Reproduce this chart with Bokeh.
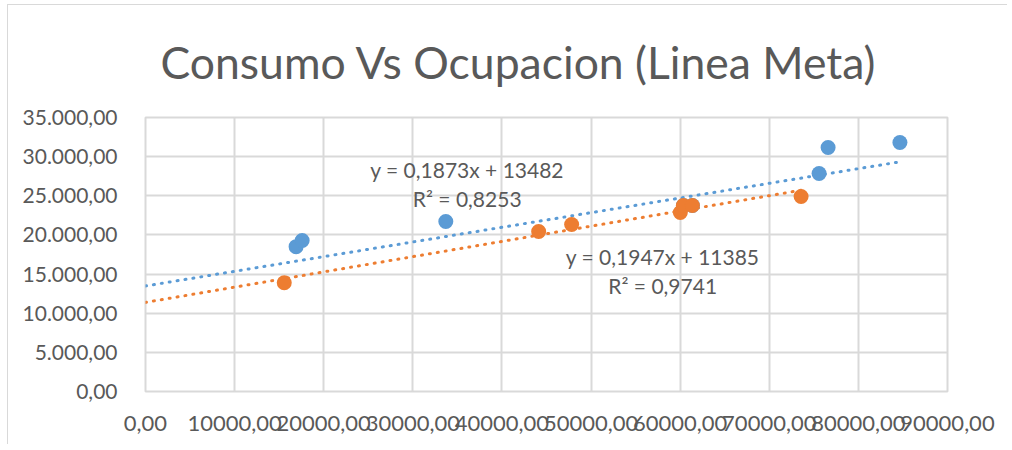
from bokeh.plotting import figure
from bokeh.models import Range1d, FixedTicker, Label
from bokeh.embed import file_html
from bokeh.resources import INLINE

# ---- data ----
blue_x = [16900, 17580, 33700, 60360, 61370, 75590, 76600, 84660]
blue_y = [18500, 19290, 21710, 23750, 23750, 27840, 31160, 31800]
orange_x = [15570, 44120, 47820, 60020, 60360, 61370, 73570]
orange_y = [13900, 20430, 21330, 22860, 23750, 23750, 24900]
blue_slope, blue_intercept = 0.1873, 13482
orange_slope, orange_intercept = 0.1947, 11385
x_ticks = [0, 10000, 20000, 30000, 40000, 50000, 60000, 70000, 80000, 90000]
x_tick_labels = ["0,00", "10000,00", "20000,00", "30000,00", "40000,00",
                 "50000,00", "60000,00", "70000,00", "80000,00", "90000,00"]
y_ticks = [0, 5000, 10000, 15000, 20000, 25000, 30000, 35000]
y_tick_labels = ["0,00", "5.000,00", "10.000,00", "15.000,00", "20.000,00",
                 "25.000,00", "30.000,00", "35.000,00"]
title_text = "Consumo Vs Ocupacion (Linea Meta)"
blue_eq = ["y = 0,1873x + 13482", "R\u00b2 = 0,8253"]
orange_eq = ["y = 0,1947x + 11385", "R\u00b2 = 0,9741"]

BLUE = "#5b9bd5"
ORANGE = "#ed7d31"
GREY = "#595959"
GRID = "#d9d9d9"
FONT = "Lato"

p = figure(width=1000, height=440,
           x_range=Range1d(0, 90000), y_range=Range1d(0, 35000),
           output_backend="svg", toolbar_location=None,
           min_border_left=137, min_border_right=61,
           min_border_top=112, min_border_bottom=54,
           background_fill_color="white", border_fill_color="white",
           title=title_text,
           styles={"margin-left": "7px", "margin-top": "4px",
                   "border-left": "1px solid #d9d9d9",
                   "border-top": "1px solid #d9d9d9"})

p.title.align = "left"
p.title.vertical_align = "top"
p.title.text_font = FONT
p.title.text_font_size = "44.5px"
p.title.text_font_style = "normal"
p.title.text_color = GREY
p.title.offset = 15
p.title.standoff = 55

p.outline_line_color = GRID
p.outline_line_width = 2

for ax in (p.xaxis[0], p.yaxis[0]):
    ax.axis_line_color = None
    ax.major_tick_line_color = None
    ax.minor_tick_line_color = None
    ax.major_label_text_font = FONT
    ax.major_label_text_color = GREY

p.xaxis.major_label_text_font_size = "22px"
p.yaxis.major_label_text_font_size = "21px"
p.xaxis.ticker = FixedTicker(ticks=x_ticks)
p.xaxis.major_label_overrides = dict(zip(x_ticks, x_tick_labels))
p.xaxis.major_label_standoff = 18
p.yaxis.ticker = FixedTicker(ticks=y_ticks)
p.yaxis.major_label_overrides = dict(zip(y_ticks, y_tick_labels))
p.yaxis.major_label_standoff = 22

p.xgrid.grid_line_color = GRID
p.xgrid.grid_line_width = 2
p.ygrid.grid_line_color = GRID
p.ygrid.grid_line_width = 2

# trend lines (from the fitted equations)
bx = [0, max(blue_x)]
ox = [0, max(orange_x)]
p.line(bx, [blue_slope * v + blue_intercept for v in bx], line_color=BLUE,
       line_width=3, line_dash="1 7", line_cap="round")
p.line(ox, [orange_slope * v + orange_intercept for v in ox], line_color=ORANGE,
       line_width=3, line_dash="1 7", line_cap="round")

p.scatter(blue_x, blue_y, size=15, fill_color=BLUE, line_color=None)
p.scatter(orange_x, orange_y, size=15, fill_color=ORANGE, line_color=None)

def add_label(x, y, text, size="21px"):
    p.add_layout(Label(x=x, y=y, text=text, text_align="center",
                       text_baseline="middle", text_font=FONT,
                       text_font_size=size, text_color=GREY))

add_label(36100, 28356, blue_eq[0])
add_label(36100, 24652, blue_eq[1])
add_label(58040, 17240, orange_eq[0])
add_label(58040, 13540, orange_eq[1])

open("out.html", "w").write(file_html(p, INLINE))
